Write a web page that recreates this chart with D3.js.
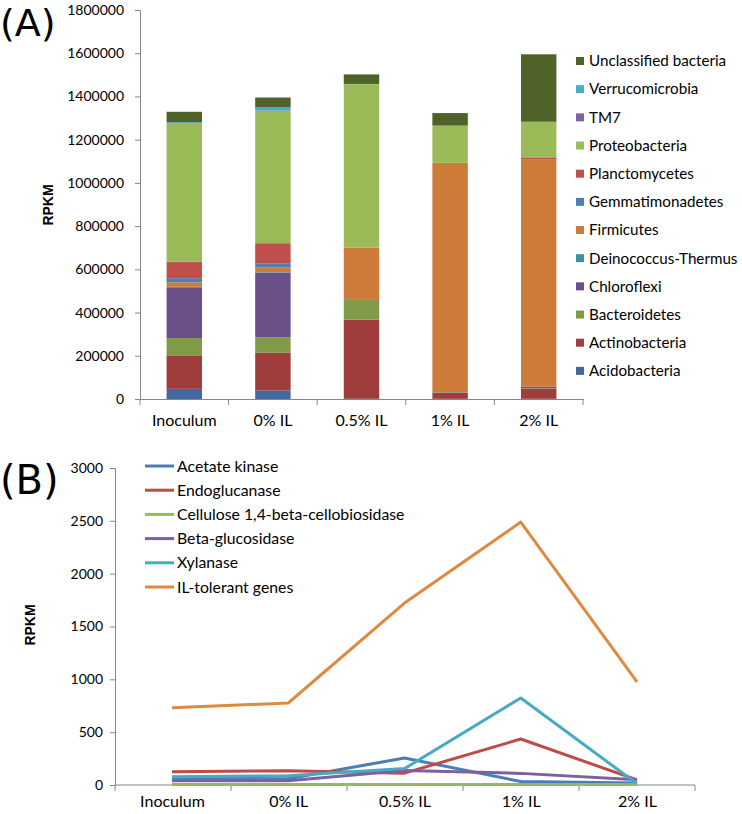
<!DOCTYPE html>
<html><head><meta charset="utf-8">
<script src="https://cdn.jsdelivr.net/npm/d3@7"></script>
<style>body{margin:0;background:#fff}svg{display:block}</style>
</head><body>
<svg id="c" width="742" height="814"></svg>
<script>
// ---- Data (A) ----
const categories = ["Inoculum", "0% IL", "0.5% IL", "1% IL", "2% IL"];
const phyla = ["Acidobacteria","Actinobacteria","Bacteroidetes","Chloroflexi","Deinococcus-Thermus","Firmicutes","Gemmatimonadetes","Planctomycetes","Proteobacteria","TM7","Verrucomicrobia","Unclassified bacteria"];
const phylaColors = ["#4169A0","#9E3D3B","#7F9B48","#6A5089","#3C8FA5","#CD7B38","#4A7EBB","#C0504D","#9BBB59","#8064A2","#4BACC6","#4F6228"];
const acidobacteria = [47000, 40000, 1000, 1000, 1000];
const actinobacteria = [155000, 174000, 366000, 28000, 47000];
const bacteroidetes = [80000, 72000, 95000, 2000, 2000];
const chloroflexi = [235000, 299000, 1000, 1000, 7000];
const deinococcus = [2000, 2000, 0, 0, 0];
const firmicutes = [21000, 21000, 237000, 1060000, 1053000];
const gemmatimonadetes = [19000, 20000, 0, 0, 0];
const planctomycetes = [77000, 93000, 1000, 1000, 8000];
const proteobacteria = [637000, 612000, 756000, 172000, 165000];
const tm7 = [2000, 2000, 0, 0, 0];
const verrucomicrobia = [6000, 14000, 1000, 0, 0];
const unclassified = [48000, 46000, 44000, 58000, 312000];
const yTicksA = [0,200000,400000,600000,800000,1000000,1200000,1400000,1600000,1800000];

// ---- Data (B) ----
const genes = ["Acetate kinase","Endoglucanase","Cellulose 1,4-beta-cellobiosidase","Beta-glucosidase","Xylanase","IL-tolerant genes"];
const geneColors = ["#4A7EBB","#BE4B48","#98B954","#7D60A0","#46AAC5","#DF8A41"];
const acetateKinase = [62, 60, 255, 33, 20];
const endoglucanase = [126, 134, 112, 435, 48];
const cellobiosidase = [4, 4, 4, 4, 4];
const betaGlucosidase = [40, 40, 138, 110, 50];
const xylanase = [78, 88, 155, 824, 12];
const ilTolerant = [730, 776, 1722, 2488, 975];
const yTicksB = [0,500,1000,1500,2000,2500,3000];

const seriesA = [acidobacteria, actinobacteria, bacteroidetes, chloroflexi, deinococcus, firmicutes, gemmatimonadetes, planctomycetes, proteobacteria, tm7, verrucomicrobia, unclassified];
const seriesB = [acetateKinase, endoglucanase, cellobiosidase, betaGlucosidase, xylanase, ilTolerant];

const svg = d3.select("#c");
const axisColor = "#868686";
const numFont = "Lato, 'Open Sans', sans-serif";
const txtFont = "Lato, 'Open Sans', sans-serif";

// ===== Chart A =====
const rowsA = categories.map((c,i)=>{ const o={cat:c}; phyla.forEach((p,j)=>o[p]=seriesA[j][i]); return o; });
const stackA = d3.stack().keys(phyla)(rowsA);
const xA = d3.scaleBand().domain(categories).range([140, 583]).paddingInner(0.6).paddingOuter(0.3);
const yA = d3.scaleLinear().domain([0, 1800000]).range([399, 10]);

const gA = svg.append("g");
gA.selectAll("g.layer").data(stackA).join("g").attr("fill",(d,i)=>phylaColors[i])
  .selectAll("rect").data(d=>d).join("rect")
  .attr("x", d=>xA(d.data.cat)).attr("width", xA.bandwidth())
  .attr("y", d=>yA(d[1])).attr("height", d=>Math.max(0, yA(d[0])-yA(d[1])));

const yAxA = gA.append("g").attr("transform","translate(140,0)")
  .call(d3.axisLeft(yA).tickValues(yTicksA).tickFormat(d3.format("d")).tickSizeOuter(0).tickSize(5).tickPadding(11));
const xAxA = gA.append("g").attr("transform","translate(0,399)")
  .call(d3.axisBottom(xA).tickSize(0).tickPadding(16));
gA.append("g").selectAll("line").data(d3.range(categories.length+1)).join("line")
  .attr("x1", i=>140 + i*(583-140)/categories.length).attr("x2", i=>140 + i*(583-140)/categories.length)
  .attr("y1", 399).attr("y2", 405).attr("stroke", axisColor);

// ===== Chart B =====
const xB = d3.scalePoint().domain(categories).range([172, 637]);
const yB = d3.scaleLinear().domain([0, 3000]).range([785, 468]);
const gB = svg.append("g");
const yAxB = gB.append("g").attr("transform","translate(115,0)")
  .call(d3.axisLeft(yB).tickValues(yTicksB).tickFormat(d3.format("d")).tickSizeOuter(0).tickSize(5).tickPadding(7));
const xAxB = gB.append("g").attr("transform","translate(0,785)")
  .call(d3.axisBottom(xB).tickSize(0).tickPadding(11));
gB.append("g").selectAll("line").data(d3.range(categories.length+1)).join("line")
  .attr("x1", i=>115 + i*(695-115)/categories.length).attr("x2", i=>115 + i*(695-115)/categories.length)
  .attr("y1", 785).attr("y2", 791).attr("stroke", axisColor);
gB.append("line").attr("x1",115).attr("x2",695).attr("y1",785).attr("y2",785).attr("stroke",axisColor);

const line = d3.line().x((d,i)=>xB(categories[i])).y(d=>yB(d));
gB.selectAll("path.ln").data(seriesB).join("path").attr("class","ln")
  .attr("d", d=>line(d)).attr("fill","none").attr("stroke",(d,i)=>geneColors[i])
  .attr("stroke-width",3).attr("stroke-linejoin","round").attr("stroke-linecap","butt");

// style axes
svg.selectAll(".domain").attr("stroke", axisColor);
svg.selectAll(".tick line").attr("stroke", axisColor);
[yAxA, yAxB].forEach(a=>a.selectAll("text").attr("font-family", numFont).attr("font-size", 14).attr("fill","#000"));
[xAxA, xAxB].forEach(a=>{ a.select(".domain").attr("stroke", axisColor); a.selectAll("text").attr("font-family", txtFont).attr("font-size", 16).attr("fill","#000"); });

// Axis titles
svg.append("text").attr("transform","translate(53,205) rotate(-90)").attr("text-anchor","middle")
  .attr("font-family","'Liberation Sans', Arial, sans-serif").attr("font-weight","bold").attr("font-size",14).text("RPKM");
svg.append("text").attr("transform","translate(35,625) rotate(-90)").attr("text-anchor","middle")
  .attr("font-family","'Liberation Sans', Arial, sans-serif").attr("font-weight","bold").attr("font-size",14).text("RPKM");

// Panel labels
svg.append("text").attr("x",0).attr("y",36).attr("font-family","'DejaVu Sans', sans-serif").attr("font-size",38).text("(A)");
svg.append("text").attr("x",0).attr("y",494).attr("font-family","'DejaVu Sans', sans-serif").attr("font-size",40).text("(B)");

// Legend A (reversed order)
const legA = svg.append("g");
const legItemsA = phyla.map((p,i)=>({name:p, color:phylaColors[i]})).reverse();
legItemsA.forEach((d,i)=>{
  const y = 61 + i*28.17;
  legA.append("rect").attr("x",576).attr("y",y-4).attr("width",8).attr("height",8).attr("fill",d.color);
  legA.append("text").attr("x",589).attr("y",y).attr("dy","0.35em").attr("font-family",txtFont).attr("font-size",15.2).text(d.name);
});

// Legend B
const legB = svg.append("g");
genes.forEach((g,i)=>{
  const y = 466 + i*24.2;
  legB.append("line").attr("x1",145).attr("x2",174).attr("y1",y).attr("y2",y).attr("stroke",geneColors[i]).attr("stroke-width",3);
  legB.append("text").attr("x",177).attr("y",y).attr("dy","0.35em").attr("font-family",txtFont).attr("font-size",15.8).text(g);
});
</script>
</body></html>
